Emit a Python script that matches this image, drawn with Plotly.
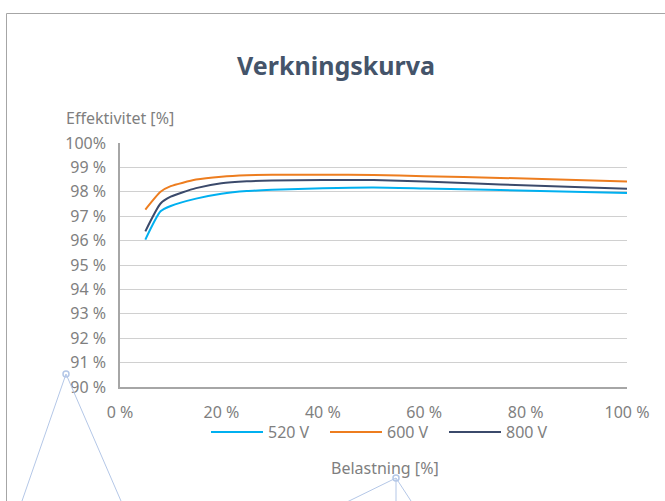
import plotly.graph_objects as go

load = [5, 8, 10, 15, 20, 25, 30, 40, 50, 60, 75, 100]
eff_520 = [96.04, 97.2, 97.42, 97.72, 97.92, 98.03, 98.08, 98.15, 98.18, 98.14, 98.07, 97.95]
eff_600 = [97.27, 98.0, 98.23, 98.5, 98.62, 98.68, 98.70, 98.70, 98.69, 98.64, 98.57, 98.42]
eff_800 = [96.38, 97.52, 97.8, 98.15, 98.35, 98.43, 98.46, 98.48, 98.48, 98.42, 98.30, 98.12]
series_names = ["520 V", "600 V", "800 V"]
colors = ["#00B0F0", "#ED7D1F", "#3B4A6B"]
y_ticks = [90, 91, 92, 93, 94, 95, 96, 97, 98, 99, 100]
y_ticktext = ["90 %", "91 %", "92 %", "93 %", "94 %", "95 %", "96 %", "97 %", "98 %", "99 %", "100%"]
x_ticks = [0, 20, 40, 60, 80, 100]
x_ticktext = ["0 %", "20 %", "40 %", "60 %", "80 %", "100 %"]

FONT = "Noto Sans"
GRAY = "#7F7F7F"
FS = 16

fig = go.Figure()
for name, ys, c in zip(series_names, [eff_520, eff_600, eff_800], colors):
    fig.add_trace(go.Scatter(x=load, y=ys, name=name, mode="lines",
                             line=dict(color=c, width=2, shape="spline", smoothing=0.6)))

W, H = 665, 501
# target plot area in screen pixels: x 120..627, y 143..387
L, T = 120, 143
R = W - 627
B = H - 387
pw, ph = W - L - R, H - T - B

def px(x):
    return (x - L) / pw

def py(y):
    return (H - B - y) / ph

shapes = []
# outer frame (top and left edges)
shapes.append(dict(type="line", xref="paper", yref="paper", x0=px(6.5), y0=py(13.5), x1=px(700), y1=py(13.5),
                   line=dict(color="#A6A6A6", width=1)))
shapes.append(dict(type="line", xref="paper", yref="paper", x0=px(6.5), y0=py(13.5), x1=px(6.5), y1=py(540),
                   line=dict(color="#A6A6A6", width=1)))
# decorative light-blue connector lines
deco = "#B4C7E7"
for (ax, ay, ends) in [(66, 374, [22, 121]), (396, 478, [349, 396, 411])]:
    for ex in ends:
        x1 = ax + (ex - ax) * (520 - ay) / (501 - ay)
        shapes.append(dict(type="line", xref="paper", yref="paper", x0=px(ax), y0=py(ay),
                           x1=px(x1), y1=py(520), line=dict(color=deco, width=1)))
    shapes.append(dict(type="circle", xref="paper", yref="paper", x0=px(ax - 3), y0=py(ay + 3),
                       x1=px(ax + 3), y1=py(ay - 3), line=dict(color=deco, width=1.5)))

fig.update_layout(
    width=W, height=H,
    margin=dict(l=L, r=R, t=T, b=B),
    paper_bgcolor="white", plot_bgcolor="white",
    font=dict(family=FONT, color=GRAY, size=FS),
    title=dict(text="<b>Verkningskurva</b>", xref="container", yref="container",
               x=336 / W, y=1 - 66 / H, xanchor="center", yanchor="middle",
               font=dict(family=FONT, size=25, color="#44546A")),
    xaxis=dict(range=[0, 100], tickvals=x_ticks, ticktext=x_ticktext, showgrid=False,
               showline=True, linecolor="#A6A6A6", linewidth=1.5, zeroline=False,
               ticks="", ticklabelstandoff=10, tickfont=dict(size=FS, color=GRAY)),
    yaxis=dict(range=[90, 100], tickvals=y_ticks, ticktext=y_ticktext, showgrid=True,
               gridcolor="#D0D0D0", gridwidth=1, showline=True, linecolor="#A6A6A6",
               linewidth=1.5, zeroline=False, ticks="", ticklabelstandoff=9,
               tickfont=dict(size=FS, color=GRAY)),
    legend=dict(orientation="h", x=px(206), y=py(432), xanchor="left", yanchor="middle",
                font=dict(size=FS, color=GRAY), bgcolor="rgba(0,0,0,0)", itemwidth=52,
                entrywidth=52),
    shapes=shapes,
    annotations=[
        dict(text="Effektivitet [%]", xref="paper", yref="paper", x=px(64), y=py(118),
             xanchor="left", yanchor="middle", showarrow=False, font=dict(size=FS, color=GRAY)),
        dict(text="Belastning [%]", xref="paper", yref="paper", x=px(385), y=py(468),
             xanchor="center", yanchor="middle", showarrow=False, font=dict(size=FS, color=GRAY)),
    ],
)

fig.write_html("out.html", config={"displayModeBar": False},
               post_script="document.body.style.margin='0';document.body.style.padding='0';")
